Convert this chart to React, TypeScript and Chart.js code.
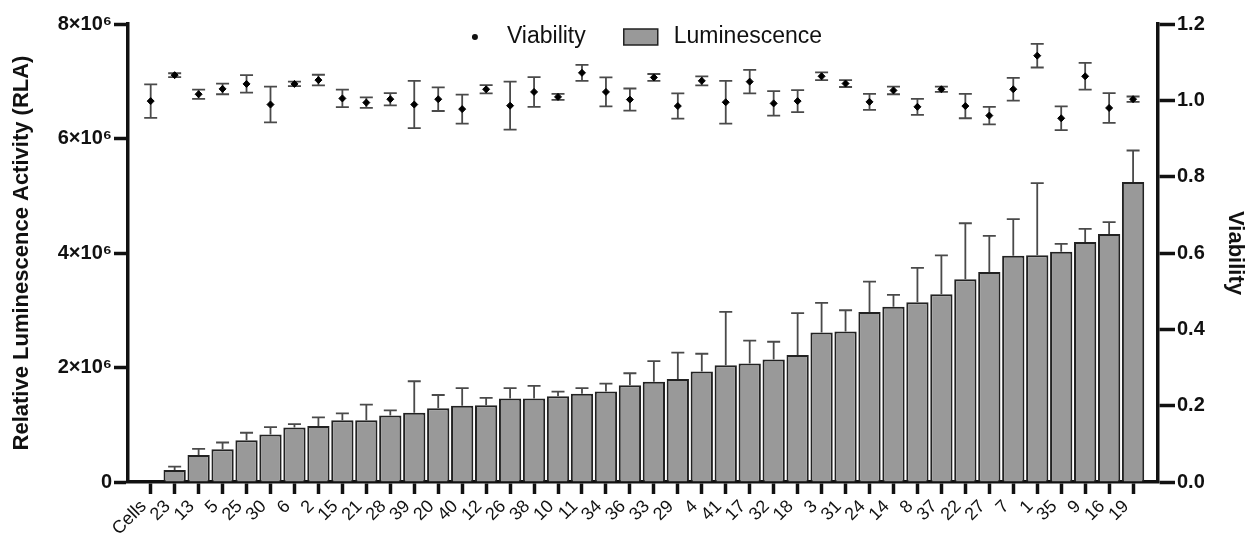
import { useEffect, useRef } from 'react';
import { Chart, registerables } from 'chart.js';
Chart.register(...registerables);

const categories = ['Cells','23','13','5','25','30','6','2','15','21','28','39','20','40','12','26','38','10','11','34','36','33','29','4','41','17','32','18','3','31','24','14','8','37','22','27','7','1','35','9','16','19'];

const lumMean = [0, 210000, 470000, 570000, 730000, 830000, 950000, 980000, 1080000, 1080000, 1160000, 1210000,
  1290000, 1330000, 1340000, 1460000, 1460000, 1500000, 1540000, 1580000, 1690000, 1750000, 1800000, 1930000,
  2040000, 2070000, 2140000, 2220000, 2610000, 2630000, 2970000, 3060000, 3140000, 3280000, 3540000, 3670000,
  3950000, 3960000, 4020000, 4190000, 4330000, 5240000];

const lumErr = [0, 60000, 110000, 120000, 130000, 130000, 60000, 150000, 120000, 270000, 90000, 550000,
  230000, 310000, 130000, 180000, 220000, 80000, 100000, 140000, 210000, 360000, 460000, 310000,
  930000, 400000, 310000, 730000, 520000, 370000, 530000, 210000, 600000, 680000, 980000, 630000,
  640000, 1260000, 140000, 230000, 210000, 550000];

const viaMean = [0.998, 1.066, 1.016, 1.030, 1.043, 0.989, 1.043, 1.053, 1.005, 0.994, 1.003, 0.989,
  1.003, 0.977, 1.029, 0.986, 1.022, 1.009, 1.072, 1.022, 1.002, 1.060, 0.985, 1.051,
  0.995, 1.049, 0.992, 0.998, 1.063, 1.044, 0.996, 1.026, 0.983, 1.029, 0.985, 0.960,
  1.029, 1.117, 0.953, 1.063, 0.980, 1.003];

const viaErr = [0.044, 0.005, 0.012, 0.014, 0.023, 0.047, 0.006, 0.014, 0.023, 0.014, 0.016, 0.062,
  0.031, 0.038, 0.011, 0.063, 0.039, 0.008, 0.021, 0.038, 0.029, 0.009, 0.033, 0.012,
  0.056, 0.031, 0.032, 0.029, 0.010, 0.009, 0.021, 0.010, 0.021, 0.007, 0.032, 0.023,
  0.030, 0.031, 0.031, 0.035, 0.039, 0.007];

const leftTicks = [0, 2000000, 4000000, 6000000, 8000000];
const leftTickLabels = ['0', '2×10⁶', '4×10⁶', '6×10⁶', '8×10⁶'];
const rightTicks = [0, 0.2, 0.4, 0.6, 0.8, 1.0, 1.2];

const FONT = '"Liberation Sans", Arial, Helvetica, sans-serif';
const BAR_FILL = '#999999';
const BAR_EDGE = '#222222';
const ERR_COLOR = '#4a4a4a';
const AXIS = '#111111';

export default function App() {
  const ref = useRef<HTMLCanvasElement>(null);

  useEffect(() => {
    document.body.style.margin = '0';

    const errorBars = {
      id: 'errorBars',
      beforeDatasetDraw(chart: any, args: any) {
        if (args.index !== 1) return;
        const meta = chart.getDatasetMeta(1);
        const ys = chart.scales.y1;
        const ctx = chart.ctx;
        ctx.save();
        ctx.strokeStyle = ERR_COLOR;
        ctx.lineWidth = 1.8;
        meta.data.forEach((el: any, i: number) => {
          const top = ys.getPixelForValue(viaMean[i] + viaErr[i]);
          const bot = ys.getPixelForValue(viaMean[i] - viaErr[i]);
          const cap = 6.5;
          ctx.beginPath();
          ctx.moveTo(el.x, top); ctx.lineTo(el.x, bot);
          ctx.moveTo(el.x - cap, top); ctx.lineTo(el.x + cap, top);
          ctx.moveTo(el.x - cap, bot); ctx.lineTo(el.x + cap, bot);
          ctx.stroke();
        });
        ctx.restore();
      },
      afterDatasetDraw(chart: any, args: any) {
        if (args.index !== 0) return;
        const meta = chart.getDatasetMeta(0);
        const ys = chart.scales.y;
        const ctx = chart.ctx;
        ctx.save();
        ctx.strokeStyle = ERR_COLOR;
        ctx.lineWidth = 1.8;
        meta.data.forEach((el: any, i: number) => {
          if (!lumErr[i]) return;
          const top = ys.getPixelForValue(lumMean[i] + lumErr[i]);
          const base = el.y;
          const cap = 6.5;
          ctx.beginPath();
          ctx.moveTo(el.x, base); ctx.lineTo(el.x, top);
          ctx.moveTo(el.x - cap, top); ctx.lineTo(el.x + cap, top);
          ctx.stroke();
        });
        ctx.restore();
      },
    };

    const customLegend = {
      id: 'customLegend',
      afterDraw(chart: any) {
        const ctx = chart.ctx;
        const area = chart.chartArea;
        ctx.save();
        ctx.font = `23px ${FONT}`;
        ctx.textBaseline = 'middle';
        ctx.fillStyle = '#111';
        const t1 = 'Viability';
        const t2 = 'Luminescence';
        const w1 = ctx.measureText(t1).width;
        const w2 = ctx.measureText(t2).width;
        const total = 35 + w1 + 38 + 34 + 16 + w2;
        const cx = (area.left + area.right) / 2 + 4;
        let x = cx - total / 2;
        const y = area.top + 13;
        ctx.beginPath();
        ctx.arc(x + 3, y, 3, 0, Math.PI * 2);
        ctx.fill();
        x += 35;
        ctx.fillText(t1, x, y);
        x += w1 + 38;
        ctx.fillStyle = BAR_FILL;
        ctx.fillRect(x, y - 8, 34, 16);
        ctx.strokeStyle = BAR_EDGE;
        ctx.lineWidth = 1.5;
        ctx.strokeRect(x, y - 8, 34, 16);
        x += 34 + 16;
        ctx.fillStyle = '#111';
        ctx.fillText(t2, x, y);
        ctx.restore();
      },
    };

    const chart = new Chart(ref.current!, {
      type: 'bar',
      data: {
        datasets: [
          {
            type: 'bar',
            label: 'Luminescence',
            data: lumMean.map((v, i) => ({ x: i, y: v })),
            backgroundColor: BAR_FILL,
            borderColor: BAR_EDGE,
            borderWidth: (c: any) => (c.raw && c.raw.y ? 2 : 0),
            barPercentage: 0.93,
            categoryPercentage: 1.0,
            yAxisID: 'y',
            order: 2,
          } as any,
          {
            type: 'scatter',
            label: 'Viability',
            data: viaMean.map((v, i) => ({ x: i, y: v })),
            backgroundColor: '#000',
            borderColor: '#000',
            pointStyle: 'rectRot',
            pointRadius: 3.5,
            showLine: false,
            yAxisID: 'y1',
            order: 1,
          } as any,
        ],
      },
      options: {
        animation: false,
        responsive: true,
        maintainAspectRatio: false,
        layout: { padding: { top: 24, left: 0, right: 0, bottom: 0 } },
        plugins: {
          legend: { display: false },
          tooltip: { enabled: false },
        },
        scales: {
          x: {
            type: 'linear',
            offset: false,
            min: -0.947,
            max: 42.04,
            afterBuildTicks: (scale: any) => {
              scale.ticks = categories.map((_, i) => ({ value: i }));
            },
            afterFit: (scale: any) => { scale.height = 56; },
            ticks: {
              autoSkip: false,
              minRotation: 45,
              maxRotation: 45,
              padding: 2,
              labelOffset: -7,
              color: '#111',
              font: { family: FONT, size: 18 },
              callback: (v: any) => categories[Math.round(Number(v))] ?? '',
            },
            grid: {
              display: true,
              offset: false,
              drawOnChartArea: false,
              drawTicks: true,
              tickLength: 12,
              tickWidth: 3.5,
              tickColor: AXIS,
            },
            border: { display: true, width: 3.5, color: AXIS },
          },
          y: {
            position: 'left',
            min: 0,
            max: 8000000,
            afterBuildTicks: (scale: any) => {
              scale.ticks = leftTicks.map((v) => ({ value: v }));
            },
            afterFit: (scale: any) => { scale.width = 128; },
            ticks: {
              padding: 2,
              color: '#111',
              font: { family: FONT, size: 20, weight: 'bold' },
              callback: (v: any) => leftTickLabels[leftTicks.indexOf(Number(v))] ?? '',
            },
            grid: {
              display: true,
              drawOnChartArea: false,
              drawTicks: true,
              tickLength: 14,
              tickWidth: 3.5,
              tickColor: AXIS,
            },
            border: { display: true, width: 3.5, color: AXIS },
            title: {
              display: true,
              text: 'Relative Luminescence Activity (RLA)',
              color: '#111',
              font: { family: FONT, size: 22, weight: 'bold' },
              padding: { top: 9, bottom: 0 },
            },
          },
          y1: {
            position: 'right',
            min: 0,
            max: 1.2,
            afterBuildTicks: (scale: any) => {
              scale.ticks = rightTicks.map((v) => ({ value: v }));
            },
            afterFit: (scale: any) => { scale.width = 90; },
            ticks: {
              padding: 2,
              color: '#111',
              font: { family: FONT, size: 20, weight: 'bold' },
              callback: (v: any) => Number(v).toFixed(1),
            },
            grid: {
              display: true,
              drawOnChartArea: false,
              drawTicks: true,
              tickLength: 17,
              tickWidth: 3.5,
              tickColor: AXIS,
            },
            border: { display: true, width: 3.5, color: AXIS },
            title: {
              display: true,
              text: 'Viability',
              color: '#111',
              font: { family: FONT, size: 22, weight: 'bold' },
              padding: { top: 0, bottom: 0 },
            },
          },
        },
      } as any,
      plugins: [errorBars, customLegend],
    });

    return () => chart.destroy();
  }, []);

  return (
    <div style={{ width: 1248, height: 538, position: 'relative' }}>
      <canvas ref={ref} />
    </div>
  );
}
